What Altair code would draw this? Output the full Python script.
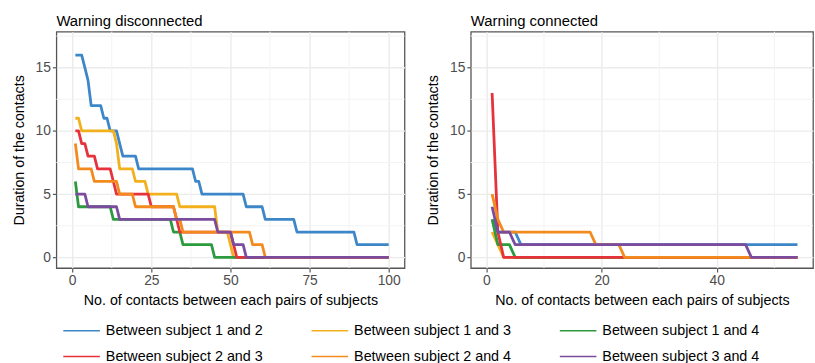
import altair as alt
import pandas as pd

pairs = [
    "Between subject 1 and 2",
    "Between subject 1 and 3",
    "Between subject 1 and 4",
    "Between subject 2 and 3",
    "Between subject 2 and 4",
    "Between subject 3 and 4",
]
colors = ["#3D87C9", "#F2B11C", "#2C9A3E", "#E6323A", "#F38A1E", "#7B4B9E"]

# Sorted contact durations, written as runs of (duration, number of contacts)
disc_12 = [(16, 3), (15, 1), (14, 1), (12, 4), (11, 2), (10, 3), (9, 1), (8, 5), (7, 18),
           (6, 2), (5, 14), (4, 6), (3, 10), (2, 19), (1, 11)]
disc_13 = [(11, 2), (10, 11), (9, 1), (7, 5), (6, 4), (5, 10), (4, 12), (2, 4), (1, 1), (0, 50)]
disc_14 = [(6, 1), (4, 11), (3, 19), (2, 3), (1, 10), (0, 56)]
disc_23 = [(10, 2), (9, 2), (8, 3), (7, 5), (6, 1), (5, 11), (4, 8), (3, 1), (2, 17), (1, 1), (0, 49)]
disc_24 = [(9, 1), (7, 5), (6, 8), (5, 5), (4, 13), (3, 2), (2, 22), (1, 4), (0, 40)]
disc_34 = [(5, 4), (4, 10), (3, 31), (2, 5), (1, 4), (0, 46)]

conn_12 = [(3, 1), (2, 4), (1, 49)]
conn_13 = [(2, 1), (1, 1), (0, 52)]
conn_14 = [(3, 1), (1, 3), (0, 50)]
conn_23 = [(13, 1), (2, 1), (0, 52)]
conn_24 = [(5, 1), (3, 1), (2, 16), (1, 5), (0, 31)]
conn_34 = [(4, 1), (2, 3), (1, 41), (0, 9)]

left_x_major = [0, 25, 50, 75, 100]
left_x_minor = [12.5, 37.5, 62.5, 87.5]
right_x_major = [0, 20, 40]
right_x_minor = [10, 30, 50]
y_major = [0, 5, 10, 15]
y_minor = [2.5, 7.5, 12.5, 17.5]

X_TITLE = "No. of contacts between each pairs of subjects"
Y_TITLE = "Duration of the contacts"


def to_frame(series):
    rows = []
    for k, (name, runs) in enumerate(zip(pairs, series)):
        vals = []
        for v, n in runs:
            vals.extend([v] * n)
        for i, v in enumerate(vals):
            rows.append({"contact": i + 1, "duration": v, "pair": name, "k": k})
    return pd.DataFrame(rows)


df_disc = to_frame([disc_12, disc_13, disc_14, disc_23, disc_24, disc_34])
df_conn = to_frame([conn_12, conn_13, conn_14, conn_23, conn_24, conn_34])

color = alt.Color(
    "pair:N",
    scale=alt.Scale(domain=pairs, range=colors),
    legend=alt.Legend(
        title=None,
        orient="none",
        legendX=6,
        legendY=283,
        direction="horizontal",
        columns=3,
        symbolType="stroke",
        symbolSize=1369,
        symbolStrokeWidth=1.5,
        labelFontSize=14.5,
        labelColor="black",
        labelOffset=5,
        columnPadding=46,
        rowPadding=-11,
    ),
)


def panel(df, title, xdomain, xmajor, xminor, width):
    xs = alt.Scale(domain=xdomain, nice=False, zero=False)
    ys = alt.Scale(domain=[-0.85, 17.85], nice=False, zero=False)
    xax = alt.Axis(values=xmajor, titlePadding=6)
    yax = alt.Axis(values=y_major, titlePadding=9)
    vminor = alt.Chart(pd.DataFrame({"v": xminor})).mark_rule(
        color="#F3F3F3", strokeWidth=1
    ).encode(x=alt.X("v:Q", scale=xs, title=X_TITLE, axis=xax))
    hminor = alt.Chart(pd.DataFrame({"h": y_minor})).mark_rule(
        color="#F3F3F3", strokeWidth=1
    ).encode(y=alt.Y("h:Q", scale=ys, title=Y_TITLE, axis=yax))
    lines = alt.Chart(df).mark_line(strokeWidth=2.8, strokeJoin="round").encode(
        x=alt.X("contact:Q", scale=xs, title=X_TITLE, axis=xax),
        y=alt.Y("duration:Q", scale=ys, title=Y_TITLE, axis=yax),
        color=color,
        order=alt.Order("contact:Q"),
        detail="k:N",
    )
    return alt.layer(vminor, hminor, lines).properties(
        width=width,
        height=239,
        title=alt.TitleParams(title, anchor="start", frame="group", fontSize=15,
                              fontWeight="normal", color="black", offset=2,
                              font="Liberation Sans"),
    )


left = panel(df_disc, "Warning disconnected", [-5, 105], left_x_major, left_x_minor, 352)
right = panel(df_conn, "Warning connected", [-2.7, 56.7], right_x_major, right_x_minor, 346)

chart = alt.hconcat(left, right, spacing=18).properties(
    padding={"left": 10, "top": 11, "right": 0, "bottom": 0},
    background="white",
).configure_view(
    stroke="#555555", strokeWidth=1.3
).configure_axis(
    grid=True,
    gridColor="#EBEBEB",
    gridWidth=1.4,
    domain=False,
    tickColor="#555555",
    tickSize=4,
    tickWidth=1.2,
    labelColor="#4D4D4D",
    labelFontSize=14,
    labelFont="Liberation Sans",
    labelPadding=2,
    titleFont="Liberation Sans",
    titleFontSize=14.4,
    titleFontWeight="normal",
    titleColor="black",
).configure_legend(
    labelFont="Liberation Sans",
)

chart.save("out.html", embed_options={"renderer": "svg", "actions": False})
